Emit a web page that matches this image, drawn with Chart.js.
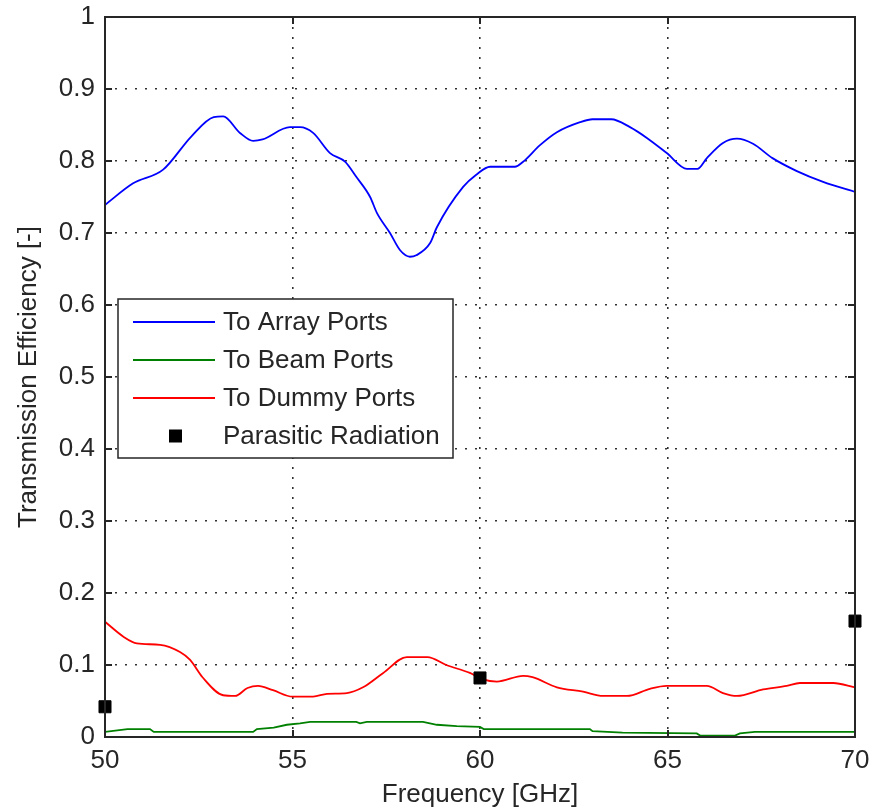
<!DOCTYPE html>
<html>
<head>
<meta charset="utf-8">
<title>Transmission Efficiency</title>
<script src="https://cdn.jsdelivr.net/npm/chart.js@4/dist/chart.umd.min.js"></script>
<style>
  html, body { margin: 0; padding: 0; background: #ffffff; }
  #c { display: block; }
</style>
</head>
<body>
<canvas id="c" width="879" height="812"></canvas>
<script>
// Frequency sweep (GHz) and efficiency per port group
const arrayFreq = [50.0, 50.75, 51.55, 52.3, 52.9, 53.15, 53.6, 53.95, 54.2, 54.93, 55.2, 55.55, 56.0, 56.4, 56.7, 57.07, 57.25, 57.6, 57.87, 58.13, 58.3, 58.67, 58.85, 59.55, 59.9, 60.27, 60.93, 61.15, 61.6, 62.05, 62.67, 63.0, 63.5, 64.0, 64.45, 64.98, 65.52, 65.8, 66.05, 66.48, 66.85, 67.28, 67.8, 68.45, 69.15, 70.0];
const arrayEff  = [0.739, 0.769, 0.788, 0.834, 0.861, 0.862, 0.839, 0.828, 0.830, 0.847, 0.847, 0.839, 0.811, 0.799, 0.778, 0.750, 0.728, 0.700, 0.676, 0.667, 0.669, 0.686, 0.708, 0.764, 0.781, 0.792, 0.792, 0.799, 0.822, 0.840, 0.854, 0.858, 0.858, 0.847, 0.832, 0.811, 0.789, 0.789, 0.804, 0.825, 0.831, 0.824, 0.804, 0.786, 0.771, 0.757];

const beamFreq = [50.0, 50.6, 51.2, 51.3, 53.95, 54.05, 54.5, 54.85, 55.2, 55.47, 56.7, 56.8, 56.98, 58.48, 58.85, 59.38, 60.0, 60.1, 62.93, 63.0, 63.8, 65.78, 65.87, 66.8, 66.93, 67.33, 70.0];
const beamEff  = [0.007, 0.011, 0.011, 0.007, 0.007, 0.011, 0.013, 0.017, 0.019, 0.021, 0.021, 0.019, 0.021, 0.021, 0.017, 0.015, 0.014, 0.011, 0.011, 0.008, 0.006, 0.005, 0.002, 0.002, 0.005, 0.007, 0.007];

const dummyFreq = [50.0, 50.5, 50.85, 51.47, 52.0, 52.27, 52.6, 53.15, 53.47, 53.8, 54.08, 54.48, 55.0, 55.55, 55.92, 56.45, 56.88, 57.42, 58.05, 58.6, 59.1, 59.73, 60.08, 60.45, 61.15, 61.4, 62.05, 62.75, 63.28, 63.92, 64.53, 64.98, 66.05, 66.48, 66.85, 67.55, 68.18, 68.53, 69.42, 70.0];
const dummyEff  = [0.160, 0.139, 0.130, 0.128, 0.118, 0.107, 0.083, 0.058, 0.057, 0.068, 0.071, 0.065, 0.056, 0.056, 0.060, 0.061, 0.069, 0.089, 0.111, 0.111, 0.100, 0.089, 0.080, 0.077, 0.085, 0.083, 0.069, 0.063, 0.057, 0.057, 0.067, 0.071, 0.071, 0.061, 0.057, 0.066, 0.071, 0.075, 0.075, 0.069];

const parasiticFreq = [50, 60, 70];
const parasiticEff  = [0.042, 0.082, 0.161];

const seriesNames = ['To Array Ports', 'To Beam Ports', 'To Dummy Ports', 'Parasitic Radiation'];
const xTickLabels = ['50', '55', '60', '65', '70'];
const yTickLabels = ['0', '0.1', '0.2', '0.3', '0.4', '0.5', '0.6', '0.7', '0.8', '0.9', '1'];
const xTitle = 'Frequency [GHz]';
const yTitle = 'Transmission Efficiency [-]';

const FONT = "'Liberation Sans', Arial, Helvetica, sans-serif";
const FSIZE = 26;
const TXT = '#262626';

const toPoints = (xs, ys) => xs.map((x, i) => ({ x: x, y: ys[i] }));

// Axes box with inward ticks on all four sides, plus a boxed legend inside the plot
const framePlugin = {
  id: 'frame',
  afterDatasetsDraw(chart) {
    const { ctx, chartArea: a, scales } = chart;
    const tickLen = 7;
    ctx.save();
    ctx.strokeStyle = TXT;
    ctx.lineWidth = 2;
    ctx.beginPath();
    scales.x.ticks.forEach(t => {
      const px = Math.round(scales.x.getPixelForValue(t.value));
      ctx.moveTo(px, a.bottom); ctx.lineTo(px, a.bottom - tickLen);
      ctx.moveTo(px, a.top); ctx.lineTo(px, a.top + tickLen);
    });
    scales.y.ticks.forEach(t => {
      const py = Math.round(scales.y.getPixelForValue(t.value));
      ctx.moveTo(a.left, py); ctx.lineTo(a.left + tickLen, py);
      ctx.moveTo(a.right, py); ctx.lineTo(a.right - tickLen, py);
    });
    ctx.stroke();
    ctx.strokeRect(a.left, a.top, a.right - a.left, a.bottom - a.top);
    ctx.restore();
  },
  afterDraw(chart) {
    const { ctx } = chart;
    const box = { left: 118, top: 299, right: 453, bottom: 458 };
    const rowY = [322, 360, 398, 436];
    ctx.save();
    ctx.fillStyle = '#ffffff';
    ctx.fillRect(box.left, box.top, box.right - box.left, box.bottom - box.top);
    ctx.strokeStyle = TXT;
    ctx.lineWidth = 1.5;
    ctx.strokeRect(box.left, box.top, box.right - box.left, box.bottom - box.top);
    ctx.font = FSIZE + 'px ' + FONT;
    ctx.textBaseline = 'middle';
    ctx.textAlign = 'left';
    chart.data.datasets.forEach((ds, i) => {
      const y = rowY[i];
      if (ds.showLine === false) {
        ctx.fillStyle = ds.pointBackgroundColor;
        ctx.fillRect(169, y - 6.5, 13, 13);
      } else {
        ctx.strokeStyle = ds.borderColor;
        ctx.lineWidth = 1.8;
        ctx.beginPath();
        ctx.moveTo(133, y); ctx.lineTo(215, y);
        ctx.stroke();
      }
      ctx.fillStyle = TXT;
      ctx.fillText(ds.label, 223, y + 1);
    });
    ctx.restore();
  }
};

new Chart(document.getElementById('c'), {
  type: 'line',
  data: {
    datasets: [
      { label: seriesNames[0], data: toPoints(arrayFreq, arrayEff), borderColor: '#0000ff', borderWidth: 1.8, pointRadius: 0, cubicInterpolationMode: 'monotone', order: 4 },
      { label: seriesNames[1], data: toPoints(beamFreq, beamEff), borderColor: '#008000', borderWidth: 1.8, pointRadius: 0, tension: 0, order: 3 },
      { label: seriesNames[2], data: toPoints(dummyFreq, dummyEff), borderColor: '#ff0000', borderWidth: 1.8, pointRadius: 0, cubicInterpolationMode: 'monotone', order: 2 },
      { label: seriesNames[3], data: toPoints(parasiticFreq, parasiticEff), showLine: false, pointStyle: 'rect', pointRadius: 8.5, pointBorderWidth: 1, pointBackgroundColor: '#000000', pointBorderColor: '#000000', clip: false, order: 1 }
    ]
  },
  options: {
    responsive: false,
    animation: false,
    events: [],
    layout: { padding: { left: 0, top: 17, right: 24, bottom: 0 } },
    plugins: { legend: { display: false }, tooltip: { enabled: false } },
    scales: {
      x: {
        type: 'linear', min: 50, max: 70,
        afterBuildTicks(s) { s.ticks = xTickLabels.map(v => ({ value: Number(v) })); },
        afterFit(s) { s.height = 75; s.paddingLeft = 0; s.paddingRight = 0; },
        grid: { color: '#333333', lineWidth: 1.6, drawTicks: false },
        border: { display: false, dash: [2, 8] },
        ticks: { color: TXT, padding: 8, maxRotation: 0, autoSkip: false, font: { family: FONT, size: FSIZE }, callback: (v, i) => xTickLabels[i] },
        title: { display: true, text: xTitle, color: TXT, font: { family: FONT, size: FSIZE }, padding: { top: 0, bottom: 2 } }
      },
      y: {
        type: 'linear', min: 0, max: 1,
        afterBuildTicks(s) { s.ticks = yTickLabels.map(v => ({ value: Number(v) })); },
        afterFit(s) { s.width = 105; s.paddingTop = 0; s.paddingBottom = 0; },
        grid: { color: '#333333', lineWidth: 1.6, drawTicks: false },
        border: { display: false, dash: [2, 8] },
        ticks: { color: TXT, padding: 10, autoSkip: false, font: { family: FONT, size: FSIZE }, callback: (v, i) => yTickLabels[i] },
        title: { display: true, text: yTitle, color: TXT, font: { family: FONT, size: FSIZE }, padding: { top: 13.5, bottom: 0 } }
      }
    }
  },
  plugins: [framePlugin]
});
</script>
</body>
</html>
